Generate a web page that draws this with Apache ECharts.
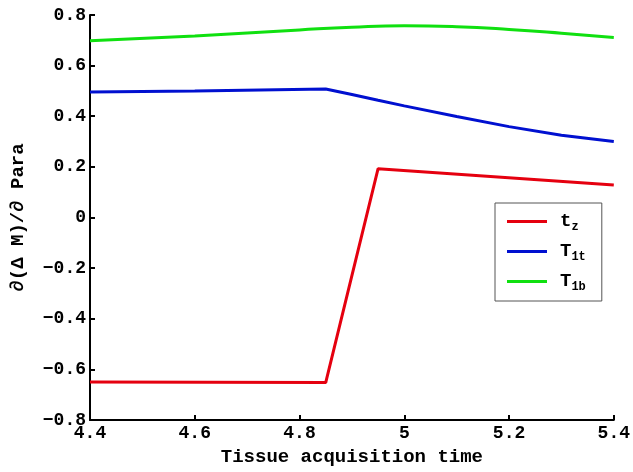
<!DOCTYPE html>
<html>
<head>
<meta charset="utf-8">
<script src="https://cdn.jsdelivr.net/npm/echarts@6/dist/echarts.min.js"></script>
<style>html,body{margin:0;padding:0;background:#fff}#c{width:633px;height:472px}</style>
</head>
<body>
<div id="c"></div>
<script>
const xTicks = [4.4, 4.6, 4.8, 5.0, 5.2, 5.4];
const yTicks = [-0.8, -0.6, -0.4, -0.2, 0, 0.2, 0.4, 0.6, 0.8];

const tzX = [4.4, 4.85, 4.95, 5.4];
const tzY = [-0.65, -0.652, 0.193, 0.128];

const t1tX = [4.4, 4.6, 4.85, 4.9, 4.95, 5.0, 5.1, 5.2, 5.3, 5.4];
const t1tY = [0.496, 0.500, 0.508, 0.486, 0.463, 0.441, 0.399, 0.359, 0.325, 0.300];

const t1bX = [4.4, 4.6, 4.8, 4.9, 5.0, 5.1, 5.2, 5.3, 5.4];
const t1bY = [0.698, 0.717, 0.741, 0.752, 0.758, 0.754, 0.743, 0.728, 0.711];

const seriesNames = ['t_z', 'T_1t', 'T_1b'];
const legendParts = { 't_z': ['t', 'z'], 'T_1t': ['T', '1t'], 'T_1b': ['T', '1b'] };

const pair = (xs, ys) => xs.map((x, i) => [x, ys[i]]);
const FONT = '"Liberation Mono", "DejaVu Sans Mono", monospace';

const chart = echarts.init(document.getElementById('c'), null, { renderer: 'canvas' });
chart.setOption({
  animation: false,
  backgroundColor: '#fff',
  grid: { left: 90, right: 18, top: 15, bottom: 48, containLabel: false },
  xAxis: {
    type: 'value', min: 4.4, max: 5.4, interval: 0.2,
    name: 'Tissue acquisition time', nameLocation: 'middle', nameGap: 28,
    nameTextStyle: { fontFamily: FONT, fontWeight: 'bold', fontSize: 19, color: '#000' },
    axisLine: { onZero: false, lineStyle: { color: '#000', width: 2 } },
    axisTick: { inside: true, length: 5, lineStyle: { color: '#000', width: 2 } },
    axisLabel: { fontFamily: FONT, fontWeight: 'bold', fontSize: 18, color: '#000', margin: 4,
      formatter: v => { const t = xTicks.find(k => Math.abs(k - v) < 1e-6); return t === undefined ? '' : String(Math.round(t*10)/10); } },
    splitLine: { show: false }
  },
  yAxis: {
    type: 'value', min: -0.8, max: 0.8, interval: 0.2,
    name: '\u2202(\u0394 M)/\u2202 Para', nameLocation: 'middle', nameGap: 62, nameRotate: 90,
    nameTextStyle: { fontFamily: FONT, fontWeight: 'bold', fontSize: 19, color: '#000' },
    axisLine: { onZero: false, lineStyle: { color: '#000', width: 2 } },
    axisTick: { inside: true, length: 5, lineStyle: { color: '#000', width: 2 } },
    axisLabel: { fontFamily: FONT, fontWeight: 'bold', fontSize: 18, color: '#000', margin: 4,
      formatter: v => { const t = yTicks.find(k => Math.abs(k - v) < 1e-6); if (t === undefined) return ''; return t === 0 ? '0' : (t < 0 ? '\u2212' : '') + Math.abs(t).toFixed(1); } },
    splitLine: { show: false }
  },
  legend: {
    orient: 'vertical', left: 495, top: 203,
    backgroundColor: '#fff', borderColor: '#555', borderWidth: 1,
    padding: [9, 16, 8, 12], itemGap: 9,
    itemWidth: 40, itemHeight: 3, icon: 'rect',
    data: seriesNames,
    formatter: n => '{a|' + legendParts[n][0] + '}{s|' + legendParts[n][1] + '}',
    textStyle: {
      color: '#000',
      rich: {
        a: { fontFamily: FONT, fontWeight: 'bold', fontSize: 19, color: '#000', height: 23, verticalAlign: 'top', padding: [0,0,0,8] },
        s: { fontFamily: FONT, fontWeight: 'bold', fontSize: 12, color: '#000', verticalAlign: 'bottom', padding: [11,0,0,0] }
      }
    }
  },
  series: [
    { name: 't_z', type: 'line', data: pair(tzX, tzY), showSymbol: false, lineStyle: { color: '#e5000f', width: 3 }, itemStyle: { color: '#e5000f' } },
    { name: 'T_1t', type: 'line', data: pair(t1tX, t1tY), showSymbol: false, lineStyle: { color: '#0010d0', width: 3 }, itemStyle: { color: '#0010d0' } },
    { name: 'T_1b', type: 'line', data: pair(t1bX, t1bY), showSymbol: false, smooth: true, lineStyle: { color: '#10e010', width: 3 }, itemStyle: { color: '#10e010' } }
  ]
});
</script>
</body>
</html>
